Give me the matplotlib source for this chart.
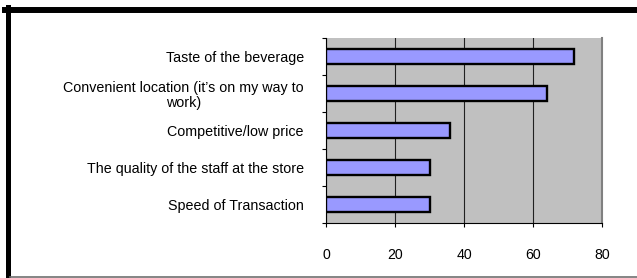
import matplotlib
matplotlib.use('Agg')
import matplotlib.pyplot as plt
from matplotlib.lines import Line2D
import numpy as np

plt.rcParams['font.family'] = ['Liberation Sans', 'DejaVu Sans']

labels = ['Taste of the beverage',
          'Convenient location (it\u2019s on my way to\nwork)',
          'Competitive/low price',
          'The quality of the staff at the store',
          'Speed of Transaction']
values = [72, 64, 36, 30, 30]
xticks = [0, 20, 40, 60, 80]

W, H = 637, 278
fig = plt.figure(figsize=(W / 100, H / 100), dpi=100)
fig.patch.set_facecolor('white')

# plot area in pixels: left 326, right 602, top 38, bottom 223
ax = fig.add_axes([326 / W, 1 - 223 / H, (602 - 326) / W, (223 - 38) / H])
ax.set_facecolor('#c0c0c0')

n = len(labels)
pos = np.arange(n)[::-1]
ax.barh(pos, values, height=0.4, color='#9999ff', edgecolor='black',
        linewidth=1.7, zorder=3)

ax.set_xlim(0, 80)
ax.set_ylim(-0.5, n - 0.5)
ax.set_xticks(xticks)
ax.set_xticklabels([str(v) for v in xticks], fontsize=10.2)
ax.tick_params(axis='x', length=3, width=0.8, pad=15, color='black')

# ticks between categories, labels at centres
ax.set_yticks(np.arange(-0.5, n, 1.0))
ax.set_yticklabels([])
ax.set_yticks(pos, minor=True)
ax.set_yticklabels(labels, minor=True, fontsize=10.3, linespacing=1.1,
                   multialignment='center')
ax.tick_params(axis='y', which='major', length=3, width=0.8, color='black')
ax.tick_params(axis='y', which='minor', length=0, pad=16)

ax.xaxis.grid(True, color='#202020', linewidth=0.8, zorder=1)
ax.set_axisbelow(True)

ax.spines['top'].set_visible(False)
ax.spines['right'].set_color('#808080')
ax.spines['right'].set_linewidth(1.5)
ax.spines['left'].set_color('black')
ax.spines['left'].set_linewidth(0.8)
ax.spines['bottom'].set_color('black')
ax.spines['bottom'].set_linewidth(0.8)

# outer frame
fig.add_artist(Line2D([7.5 / W, 7.5 / W], [0, 1 - 7 / H], color='black',
                      linewidth=3.6, transform=fig.transFigure))
fig.add_artist(Line2D([5 / W, 1], [1 - 10 / H, 1 - 10 / H], color='black',
                      linewidth=4.3, transform=fig.transFigure))
fig.add_artist(Line2D([10 / W, 1], [1 - 277 / H, 1 - 277 / H], color='#707070',
                      linewidth=1.2, transform=fig.transFigure))

fig.savefig('out.png', dpi=100)
